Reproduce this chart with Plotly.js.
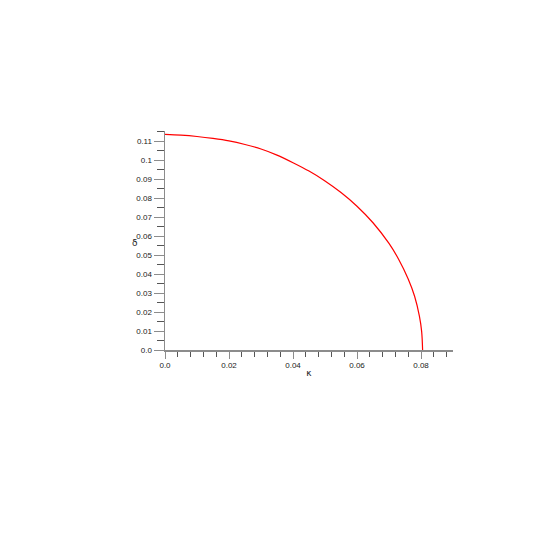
<!DOCTYPE html>
<html>
<head>
<meta charset="utf-8">
<script src="https://cdn.plot.ly/plotly-3.0.1.min.js"></script>
<style>
  body { margin: 0; background: #fff; }
  #plot { width: 545px; height: 545px; }
</style>
</head>
<body>
<div id="plot"></div>
<script>
// values
let kappa = [0.0, 0.005, 0.010, 0.015, 0.020, 0.025, 0.030, 0.035, 0.040, 0.045,
             0.050, 0.055, 0.060, 0.065, 0.070, 0.073, 0.076, 0.078, 0.0795, 0.0802, 0.0805];
let delta = [0.1135, 0.1131, 0.1124, 0.1114, 0.1101, 0.1082, 0.1058, 0.1026, 0.0986, 0.0942,
             0.0890, 0.0829, 0.0757, 0.0670, 0.0561, 0.0478, 0.0374, 0.0283, 0.0178, 0.0098, 0.0];

let xTickVals = [0, 0.02, 0.04, 0.06, 0.08];
let xTickText = ['0.0', '0.02', '0.04', '0.06', '0.08'];
let yTickVals = [0, 0.01, 0.02, 0.03, 0.04, 0.05, 0.06, 0.07, 0.08, 0.09, 0.1, 0.11];
let yTickText = ['0.0', '0.01', '0.02', '0.03', '0.04', '0.05', '0.06', '0.07', '0.08', '0.09', '0.1', '0.11'];

let axisColor = '#8c8c8c';
let tickFont = {family: 'Liberation Sans, Arial, sans-serif', size: 8, color: '#222'};

let trace = {
    x: kappa,
    y: delta,
    mode: 'lines',
    type: 'scatter',
    line: {color: '#ff0000', width: 1.2, shape: 'spline'},
    hoverinfo: 'none'
};

let layout = {
    width: 545,
    height: 545,
    margin: {l: 165, r: 92, t: 131, b: 195},
    paper_bgcolor: '#fff',
    plot_bgcolor: '#fff',
    showlegend: false,
    xaxis: {
        range: [0, 0.09],
        showgrid: false,
        zeroline: false,
        showline: true,
        linecolor: axisColor,
        linewidth: 1.5,
        ticks: 'outside',
        ticklen: 7,
        tickwidth: 1,
        tickcolor: axisColor,
        tickmode: 'array',
        tickvals: xTickVals,
        ticktext: xTickText,
        tickfont: tickFont,
        minor: {dtick: 0.004, tick0: 0, ticks: 'outside', ticklen: 5, tickwidth: 1, tickcolor: '#555', showgrid: false},
        title: {text: 'κ', font: {family: 'DejaVu Sans, sans-serif', size: 9, color: '#222'}, standoff: 0}
    },
    yaxis: {
        range: [0, 0.1153],
        showgrid: false,
        zeroline: false,
        showline: true,
        linecolor: axisColor,
        linewidth: 1.5,
        ticks: 'outside',
        ticklen: 10,
        tickwidth: 1,
        tickcolor: axisColor,
        tickmode: 'array',
        tickvals: yTickVals,
        ticktext: yTickText,
        tickfont: tickFont,
        minor: {dtick: 0.005, tick0: 0, ticks: 'outside', ticklen: 7, tickwidth: 1, tickcolor: '#555', showgrid: false}
    },
    annotations: [{
        text: 'δ',
        xref: 'paper', yref: 'paper',
        x: -0.122, y: 0.49,
        showarrow: false,
        font: {family: 'DejaVu Sans, sans-serif', size: 9, color: '#222'}
    }]
};

Plotly.newPlot('plot', [trace], layout, {displayModeBar: false, staticPlot: true});
</script>
</body>
</html>
